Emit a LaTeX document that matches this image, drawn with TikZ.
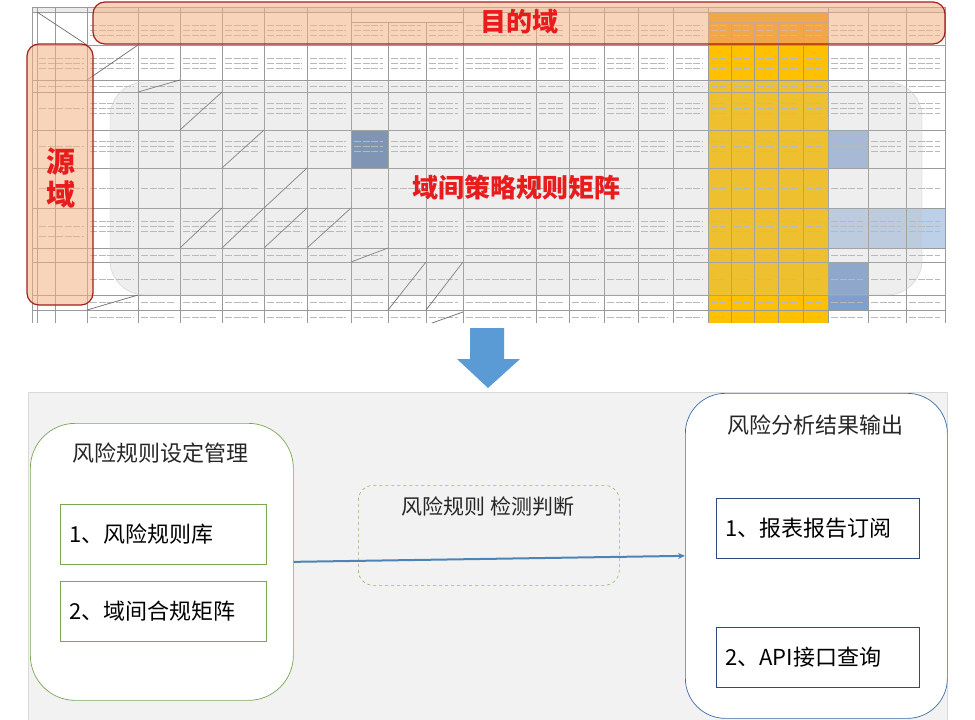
\documentclass[tikz,border=0pt]{standalone}
\usepackage{fontspec}
\setmainfont{Noto Sans CJK SC}
\usepackage{tikz}
\usetikzlibrary{arrows.meta,positioning,calc}
\definecolor{sheetgrid}{HTML}{9A9A9A}
\definecolor{sheetdiag}{HTML}{6E6E6E}
\definecolor{hdrorange}{HTML}{F29A00}
\definecolor{colorange}{HTML}{FFC000}
\definecolor{cellblue}{HTML}{7F9FD0}
\definecolor{cellpale}{HTML}{BDD0EA}
\definecolor{peach}{HTML}{F4B183}
\definecolor{domred}{HTML}{A02020}
\definecolor{labelred}{HTML}{E81C1C}
\definecolor{flowblue}{HTML}{5B9BD5}
\definecolor{boxgreen}{HTML}{7BA752}
\definecolor{outblue}{HTML}{3E6BA8}
\definecolor{itemnavy}{HTML}{2F4A7E}
\definecolor{panelgrey}{HTML}{F2F2F2}
\tikzset{gridline/.style={draw=sheetgrid, line width=0.6pt},
  diagline/.style={draw=sheetdiag, line width=0.7pt},
  textmark/.style={draw=black!28, line width=1pt, dash pattern=on 7pt off 1.5pt},
  domainbox/.style={draw=domred, line width=1.2pt, fill=peach,
    fill opacity=0.55, rounded corners=12pt},
  overlaylabel/.style={text=labelred, font=\bfseries\fontsize{26}{28}\selectfont},
  groupbox/.style={draw=boxgreen, fill=white, line width=0.7pt,
    rounded corners=45pt, anchor=north west},
  itembox/.style={draw=boxgreen, fill=white, line width=0.7pt, anchor=north west,
    minimum height=60pt, text width=188pt, inner xsep=9pt, align=left,
    font=\fontsize{22}{26}\selectfont},
  boxtitle/.style={font=\fontsize{22}{26}\selectfont, text=black!85}}
\newcommand\cellmarks[1]{%
  \foreach \xa/\xb in {87/138,138/180,180/222,222/264,264/307,307/351,351/388,
    388/426,426/463,463/536,536/569,569/604,604/638,638/673,673/708,708/731,
    731/754,754/778,778/803,803/828,828/868,868/906,906/945}
    \foreach \yl in {#1}
      \draw[textmark] (\xa+3,\yl) -- (\xb-5,\yl);}

\begin{document}
\begin{tikzpicture}[x=1pt, y=-1pt]
\useasboundingbox (0,0) rectangle (975,720);
\fill[white] (0,0) rectangle (975,720);
\fill[black!8] (32,7) rectangle (945,12);
\fill[hdrorange] (708,12) rectangle (828,45);
\fill[colorange] (708,45) rectangle (828,323);
\fill[cellblue!85!black] (351,130) rectangle (388,168);
\fill[cellblue!75] (828,130) rectangle (868,168);
\fill[cellpale] (828,208) rectangle (945,248);
\fill[cellblue] (828,262) rectangle (868,310);
\cellmarks{25,30,35}
\cellmarks{58,63,68}
\cellmarks{86}
\cellmarks{103,108,113}
\cellmarks{141,146,151}
\cellmarks{188}
\cellmarks{221,226,231}
\cellmarks{255}
\cellmarks{279}
\cellmarks{302}
\cellmarks{317}
\foreach \yl in {58,63,68,86,108,146,188,226,236}
  \draw[textmark] (39,\yl) -- (84,\yl);
\foreach \x in {32,37,55,87,138,180,222,264,307,351,388,426,463,536,569,
  604,638,673,708,731,754,778,803,828,868,906,945}
  \draw[gridline] (\x,22) -- (\x,323);
\foreach \x in {32,37,55,87,138,180,222,264,307,351,463,536,569,604,638,
  673,708,828,868,906,945}
  \draw[gridline] (\x,7) -- (\x,22);
\foreach \y in {7,12,45,80,92,130,168,208,248,262,295,310}
  \draw[gridline] (32,\y) -- (945,\y);
\draw[gridline] (351,22) -- (463,22) (708,22) -- (828,22);
\foreach \a/\b/\c/\d in {37/12/87/45, 87/80/138/45, 138/92/180/80,
  180/130/222/92, 222/168/264/130, 264/208/307/168, 180/248/222/208,
  222/248/264/208, 264/248/307/208, 307/248/351/208, 351/262/388/248,
  388/310/426/262, 426/310/463/262, 432/323/463/312, 87/310/138/295}
  \draw[diagline] (\a,\b) -- (\c,\d);
\draw[draw=black!20, fill=black!25, fill opacity=0.25, rounded corners=35pt]
  (110,82) rectangle (922,295);
\draw[domainbox] (93,2) rectangle (945,44);
\draw[domainbox] (27,44) rectangle (93,305);
\node[overlaylabel] (target) at (519,22) {目的域};
\node[overlaylabel, font=\bfseries\fontsize{29}{30}\selectfont] (srcA) at (61,162) {源};
\node[overlaylabel, font=\bfseries\fontsize{29}{30}\selectfont] (srcB) at (61,194) {域};
\node[overlaylabel] (matrix) at (516,188) {域间策略规则矩阵};
\fill[flowblue] (470,328) -- (504,328) -- (504,359) -- (520,359)
  -- (488,388) -- (457,359) -- (470,359) -- cycle;
\draw[draw=black!15, fill=panelgrey] (28,392) rectangle (947,722);
\node[groupbox, minimum width=263pt, minimum height=277pt] (mgmt) at (30,423) {};
\node[boxtitle] (mgmtT) at (160,453) {风险规则设定管理};
\node[itembox] (ruleLib) at (60,504) {1、风险规则库};
\node[itembox, below=16pt of ruleLib.south west, anchor=north west] (ruleMx)
  {2、域间合规矩阵};
\node[draw=boxgreen!85, dashed, line width=0.6pt, rounded corners=15pt,
  anchor=north west, minimum width=261pt, minimum height=100pt] (check)
  at (358,485) {};
\node[boxtitle, font=\fontsize{21}{24}\selectfont] (checkT) at (488,507)
  {风险规则 检测判断};
\node[groupbox, draw=outblue, minimum width=262pt, minimum height=325pt,
  rounded corners=40pt] (output) at (685,393) {};
\node[boxtitle] (outputT) at (815,425) {风险分析结果输出};
\node[itembox, draw=itemnavy, text width=185pt] (report) at (716,498)
  {1、报表报告订阅};
\node[itembox, draw=itemnavy, text width=185pt, below=68pt of report.south west,
  anchor=north west] (api) {2、API接口查询};
\draw[-{Stealth[length=7pt, width=6pt]}, line width=2pt, flowblue!85!black]
  (mgmt.east) -- (output.west);
\end{tikzpicture}
\end{document}
